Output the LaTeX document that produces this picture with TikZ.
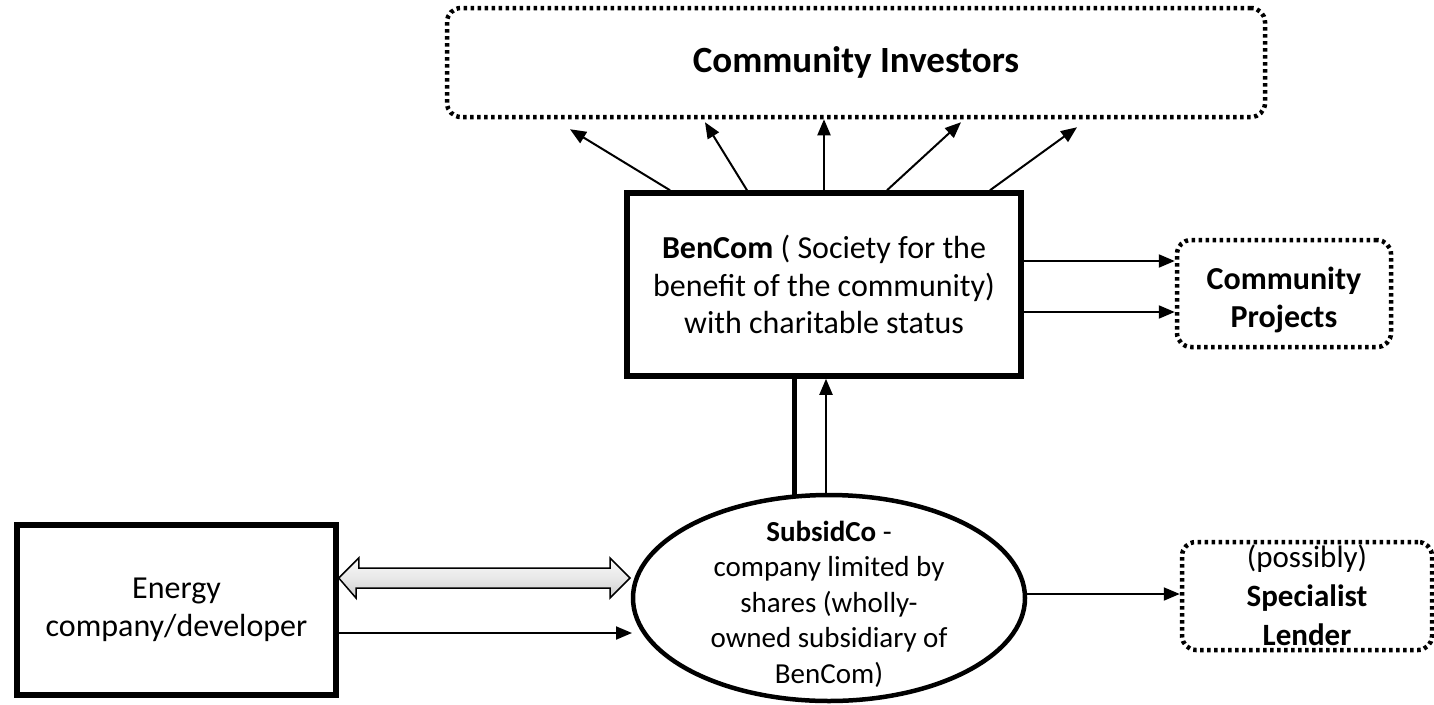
\documentclass[tikz,border=0pt]{standalone}
\usepackage{fontspec}
\setmainfont{Carlito}
\usetikzlibrary{arrows.meta,shapes.geometric,calc}
\begin{document}
\begin{tikzpicture}[x=1pt,y=-1pt,
  dotbox/.style={draw, line width=4.5pt, dash pattern=on 3.5pt off 3.5pt, rounded corners=14pt, align=center, inner sep=0pt},
  solidbox/.style={draw, line width=5.5pt, align=center, inner sep=0pt},
  arr/.style={line width=2pt, -{Triangle[length=16pt,width=13pt]}},
  txt/.style={font=\fontsize{32}{37.5}\selectfont},
  btxt/.style={font=\fontsize{32}{38}\selectfont\bfseries},
]
\useasboundingbox (0,0) rectangle (1434,704);

\node[dotbox, minimum width=818pt, minimum height=109pt,
      font=\fontsize{37}{42}\selectfont\bfseries] (ci) at (856,62.5) {Community Investors};

\node[solidbox, minimum width=394pt, minimum height=183pt, txt] (bencom) at (824,284.5)
  {\textbf{BenCom} ( Society for the\\ benefit of the community)\\ with charitable status};

\node[dotbox, minimum width=214pt, minimum height=107pt,
      label={[align=center, btxt, yshift=-6pt]center:Community\\ Projects}] (cp) at (1284,293.5) {};

\node[solidbox, minimum width=319pt, minimum height=170pt, txt] (energy) at (176.5,610)
  {Energy\\ company/developer};

\node[draw, ellipse, line width=4.5pt, minimum width=392pt, minimum height=206pt, inner sep=0pt,
      label={[align=center, font=\fontsize{29}{35.5}\selectfont, yshift=-6pt]center:\textbf{SubsidCo} -\\ company limited by\\ shares (wholly-\\ owned subsidiary of\\ BenCom)}]
  (sub) at (829,598) {};

\node[dotbox, minimum width=250pt, minimum height=108pt,
      label={[align=center, font=\fontsize{31}{39}\selectfont, yshift=1pt]center:(possibly)\\ \textbf{Specialist}\\ \textbf{Lender}}]
  (sl) at (1307,596) {};

% arrows to investors
\draw[arr] ($(bencom.north)+(-154,0)$) -- ($(ci.south)+(-286,10)$);
\draw[arr] ($(bencom.north)+(-77,0)$) -- ($(ci.south)+(-151,3)$);
\draw[arr] ($(bencom.north)+(0,0)$) -- ($(ci.south)+(-32,0)$);
\draw[arr] ($(bencom.north)+(63,0)$) -- ($(ci.south)+(105,3)$);
\draw[arr] ($(bencom.north)+(166,0)$) -- ($(ci.south)+(221,8)$);

% arrows to community projects
\draw[arr] (bencom.east |- 0,261) -- (cp.west |- 0,261);
\draw[arr] (bencom.east |- 0,312) -- (cp.west |- 0,312);

% links between BenCom and SubsidCo
\draw[line width=5pt] (bencom.south -| 794,0) -- ($(sub.north -| 794,0)+(0,2)$);
\draw[arr] (sub.north -| 826,0) -- (bencom.south -| 826,0);

% double arrow
\draw[line width=1.5pt, top color=gray!5, bottom color=gray!40, middle color=gray!18]
  (energy.east |- 0,578) -- ++(20,-20) -- ++(0,10) -- (610,568) -- (610,558) -- (630,578)
  -- (610,598) -- (610,588) -- (356,588) -- (356,598) -- cycle;

% energy to subsidco
\draw[arr] (energy.east |- 0,633) -- (632,633);

% subsidco to lender
\draw[arr] (sub.east |- 0,594) -- (sl.west |- 0,594);
\end{tikzpicture}
\end{document}
